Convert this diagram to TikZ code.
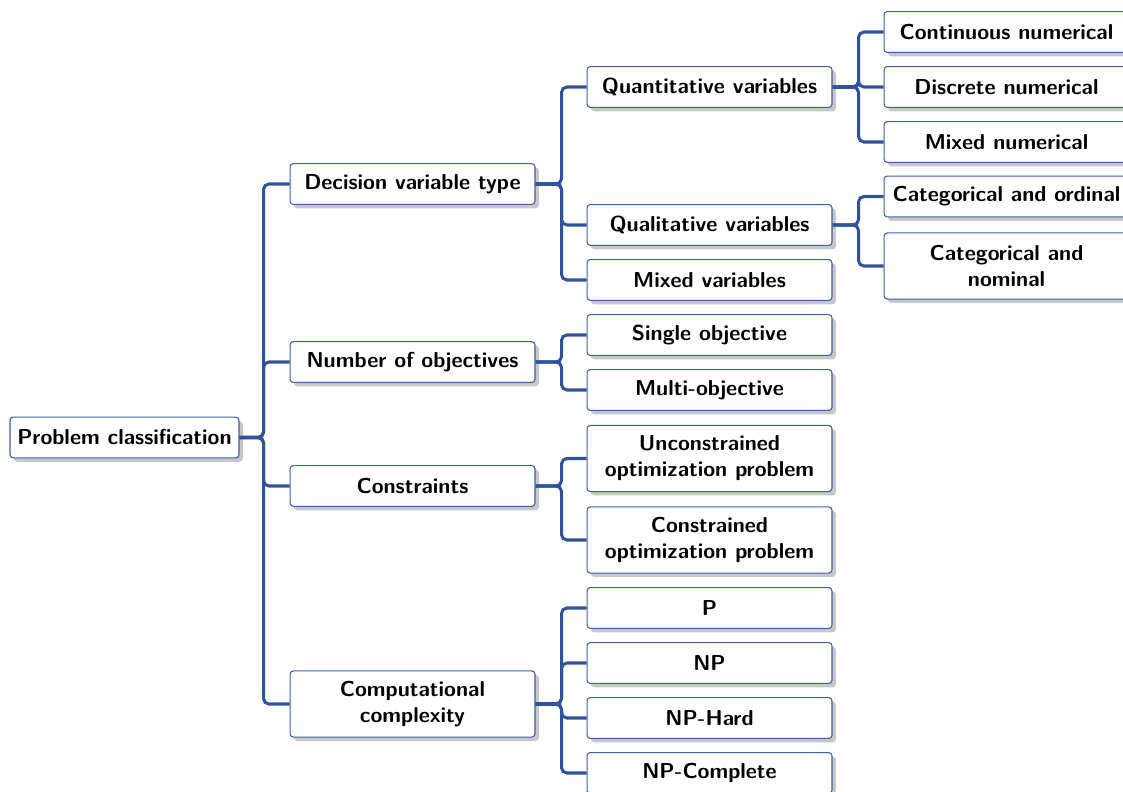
\documentclass[tikz,border=0pt]{standalone}
\usetikzlibrary{shadows}
\definecolor{boxblue}{RGB}{60,95,170}
\definecolor{linkblue}{RGB}{48,82,155}
\begin{document}
\begin{tikzpicture}[x=0.463pt,y=-0.463pt,
  box/.style={draw=boxblue, line width=0.5pt, rounded corners=1.5pt, fill=white,
    minimum width=113.4pt, minimum height=18.9pt, inner sep=2pt, align=center,
    font=\sffamily\bfseries,
    drop shadow={shadow xshift=1.8pt, shadow yshift=-1.8pt, fill=black!22, opacity=1}},
  tall/.style={minimum height=30.6pt},
  link/.style={draw=linkblue, line width=1.4pt, rounded corners=2.5pt}]
\useasboundingbox (0,0) rectangle (1123,792);

% root
\node[box, minimum width=106pt] (root) at (124.5,437.5) {Problem classification};

% first level
\node[box] (dvt) at (412.5,184) {Decision variable type};
\node[box] (obj) at (412.5,362) {Number of objectives};
\node[box] (con) at (412.5,486) {Constraints};
\node[box, tall] (cpx) at (412.5,704) {Computational\\complexity};

% second level
\node[box] (quan) at (709.5,87) {Quantitative variables};
\node[box] (qual) at (709.5,225) {Qualitative variables};
\node[box] (mixv) at (709.5,280) {Mixed variables};
\node[box] (single) at (709.5,335) {Single objective};
\node[box] (multi) at (709.5,390) {Multi-objective};
\node[box, tall] (uncon) at (709.5,458.5) {Unconstrained\\optimization problem};
\node[box, tall] (cons) at (709.5,540) {Constrained\\optimization problem};
\node[box] (p) at (709.5,608) {P};
\node[box] (np) at (709.5,663) {NP};
\node[box] (nph) at (709.5,718) {NP-Hard};
\node[box] (npc) at (709.5,773) {NP-Complete};

% third level
\node[box] (cont) at (1006.5,32) {Continuous numerical};
\node[box] (disc) at (1006.5,87) {Discrete numerical};
\node[box] (mixn) at (1006.5,142) {Mixed numerical};
\node[box] (ord) at (1006.5,196.5) {Categorical and ordinal};
\node[box, tall] (nom) at (1006.5,266) {Categorical and\\nominal};

% forked connectors
\foreach \c in {dvt,obj,con,cpx}
  \draw[link] (root.east) -- ++(24,0) |- (\c.west);
\foreach \c in {quan,qual,mixv}
  \draw[link] (dvt.east) -- ++(26,0) |- (\c.west);
\foreach \c in {single,multi}
  \draw[link] (obj.east) -- ++(26,0) |- (\c.west);
\foreach \c in {uncon,cons}
  \draw[link] (con.east) -- ++(26,0) |- (\c.west);
\foreach \c in {p,np,nph,npc}
  \draw[link] (cpx.east) -- ++(26,0) |- (\c.west);
\foreach \c in {cont,disc,mixn}
  \draw[link] (quan.east) -- ++(26,0) |- (\c.west);
\foreach \c in {ord,nom}
  \draw[link] (qual.east) -- ++(26,0) |- (\c.west);
\end{tikzpicture}
\end{document}
